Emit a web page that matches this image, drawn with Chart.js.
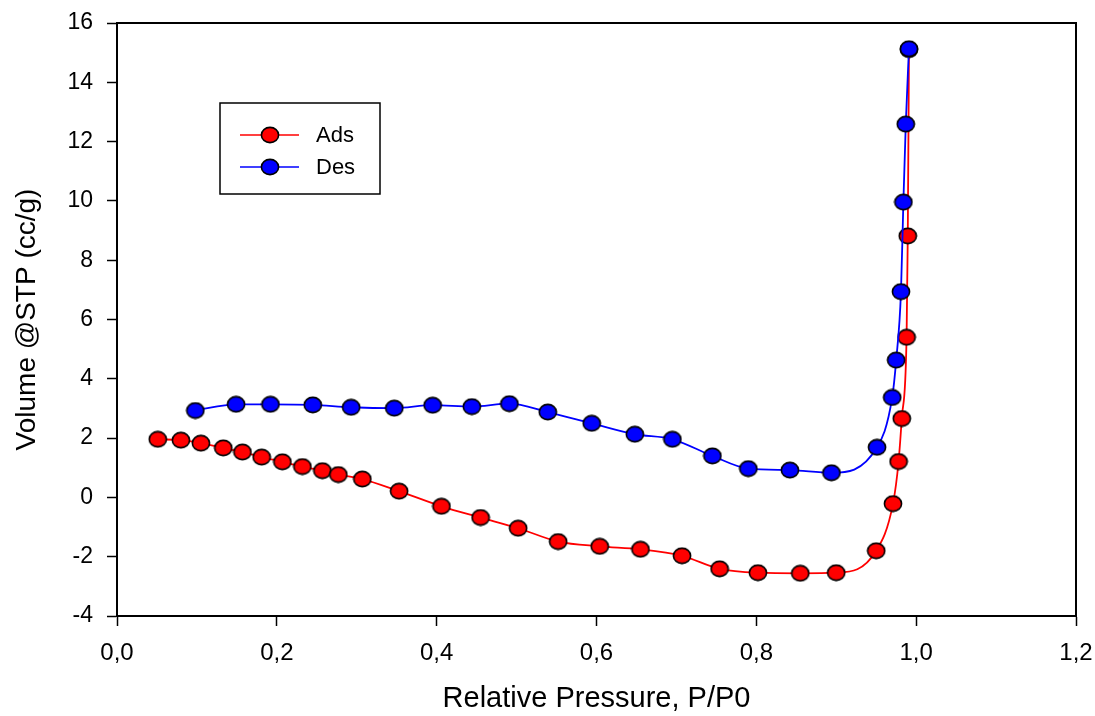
<!DOCTYPE html>
<html>
<head>
<meta charset="utf-8">
<script src="https://cdn.jsdelivr.net/npm/chart.js@4/dist/chart.umd.min.js"></script>
<style>
	html, body { margin: 0; padding: 0; background: #fff; }
	#wrap { width: 1095px; height: 716px; }
</style>
</head>
<body>
<div id="wrap"><canvas id="chart" width="1095" height="716"></canvas></div>
<script>
// Adsorption branch (P/P0, volume)
const adsX = [0.051, 0.080, 0.105, 0.133, 0.157, 0.181, 0.207, 0.232, 0.257, 0.277, 0.307, 0.353, 0.406, 0.455, 0.502, 0.552, 0.604, 0.655, 0.707, 0.754, 0.802, 0.855, 0.900, 0.950, 0.971, 0.978, 0.982, 0.988, 0.9895, 0.991]
const adsY = [1.96, 1.93, 1.83, 1.67, 1.53, 1.36, 1.20, 1.04, 0.90, 0.77, 0.62, 0.21, -0.30, -0.68, -1.04, -1.49, -1.65, -1.75, -1.97, -2.41, -2.54, -2.56, -2.54, -1.80, -0.21, 1.21, 2.66, 5.40, 8.82, 15.10]

// Desorption branch
const desX = [0.098, 0.149, 0.192, 0.245, 0.293, 0.347, 0.395, 0.444, 0.491, 0.539, 0.594, 0.648, 0.695, 0.745, 0.790, 0.842, 0.894, 0.951, 0.970, 0.975, 0.981, 0.984, 0.987, 0.991]
const desY = [2.93, 3.14, 3.14, 3.12, 3.04, 3.01, 3.11, 3.06, 3.16, 2.88, 2.50, 2.13, 1.96, 1.40, 0.97, 0.92, 0.83, 1.69, 3.37, 4.63, 6.94, 9.96, 12.59, 15.13]

const seriesNames = ['Ads', 'Des']
const xTicks = [0, 0.2, 0.4, 0.6, 0.8, 1.0, 1.2]
const yTicks = [-4, -2, 0, 2, 4, 6, 8, 10, 12, 14, 16]

const FONT = 'Arial, "Liberation Sans", sans-serif'

function toPoints(xs, ys) {
	return xs.map((x, i) => ({ x: x, y: ys[i] }))
}

// slightly wide ellipse marker like the original
function makeMarker(fill) {
	const c = document.createElement('canvas')
	c.width = 20
	c.height = 18
	const g = c.getContext('2d')
	g.beginPath()
	g.ellipse(10, 9, 8.6, 7.6, 0, 0, Math.PI * 2)
	g.fillStyle = fill
	g.fill()
	g.lineWidth = 1.6
	g.strokeStyle = '#000'
	g.stroke()
	return c
}

const redMarker = makeMarker('#ff0000')
const blueMarker = makeMarker('#0000ff')

// label overhang would otherwise push the plot area in
function noOverhang(s) {
	s.paddingLeft = 0
	s.paddingRight = 0
	s.paddingTop = 0
	s.paddingBottom = 0
}

const framePlugin = {
	id: 'frame',
	afterDraw(chart) {
		const { ctx, chartArea: a } = chart
		ctx.save()
		ctx.strokeStyle = '#000'
		ctx.lineWidth = 2
		ctx.beginPath()
		ctx.moveTo(a.left, a.top)
		ctx.lineTo(a.right, a.top)
		ctx.lineTo(a.right, a.bottom)
		ctx.stroke()

		// legend box
		const bx = 220, by = 103, bw = 160, bh = 91
		ctx.lineWidth = 1.5
		ctx.strokeRect(bx, by, bw, bh)
		const entries = [
			{ name: seriesNames[0], color: '#ff0000', marker: redMarker, y: 135 },
			{ name: seriesNames[1], color: '#0000ff', marker: blueMarker, y: 167 },
		]
		ctx.font = '22px ' + FONT
		ctx.textBaseline = 'middle'
		ctx.textAlign = 'left'
		entries.forEach(e => {
			ctx.strokeStyle = e.color
			ctx.lineWidth = 1.5
			ctx.beginPath()
			ctx.moveTo(240, e.y)
			ctx.lineTo(299, e.y)
			ctx.stroke()
			ctx.drawImage(e.marker, 270 - 10, e.y - 9)
			ctx.fillStyle = '#000'
			ctx.fillText(e.name, 316, e.y + 1)
		})
		ctx.restore()
	},
}

const ctx = document.getElementById('chart').getContext('2d')
new Chart(ctx, {
	type: 'scatter',
	data: {
		datasets: [
			{
				label: seriesNames[0],
				data: toPoints(adsX, adsY),
				showLine: true,
				borderColor: '#ff0000',
				borderWidth: 1.8,
				cubicInterpolationMode: 'monotone',
				pointStyle: redMarker,
				pointRadius: 8,
				order: 1,
			},
			{
				label: seriesNames[1],
				data: toPoints(desX, desY),
				showLine: true,
				borderColor: '#0000ff',
				borderWidth: 1.8,
				cubicInterpolationMode: 'monotone',
				pointStyle: blueMarker,
				pointRadius: 8,
				order: 0,
			},
		],
	},
	options: {
		responsive: false,
		animation: false,
		events: [],
		layout: {
			padding: { top: 23, right: 19, left: 0, bottom: 0 },
		},
		scales: {
			x: {
				type: 'linear',
				min: 0,
				max: 1.2,
				afterBuildTicks: s => { s.ticks = xTicks.map(v => ({ value: v })) },
				afterFit: s => { s.height = 100; noOverhang(s) },
				ticks: {
					color: '#000',
					padding: 13,
					maxRotation: 0,
					font: { family: FONT, size: 24 },
					callback: v => v.toFixed(1).replace('.', ','),
				},
				grid: {
					drawOnChartArea: false,
					color: '#000',
					tickLength: 10,
					tickWidth: 1.5,
				},
				border: { color: '#000', width: 2 },
				title: {
					display: true,
					text: 'Relative Pressure, P/P0',
					color: '#000',
					font: { family: FONT, size: 29 },
					padding: { top: 0, bottom: 0 },
				},
			},
			y: {
				type: 'linear',
				min: -4,
				max: 16,
				afterBuildTicks: s => { s.ticks = yTicks.map(v => ({ value: v })) },
				afterFit: s => { s.width = 117; noOverhang(s) },
				ticks: {
					color: '#000',
					padding: 14,
					font: { family: FONT, size: 23 },
				},
				grid: {
					drawOnChartArea: false,
					color: '#000',
					tickLength: 10,
					tickWidth: 1.5,
				},
				border: { color: '#000', width: 2 },
				title: {
					display: true,
					text: 'Volume @STP (cc/g)',
					color: '#000',
					font: { family: FONT, size: 28 },
					padding: { top: 10, bottom: 0 },
				},
			},
		},
		plugins: {
			legend: { display: false },
			tooltip: { enabled: false },
		},
	},
	plugins: [framePlugin],
})
</script>
</body>
</html>
